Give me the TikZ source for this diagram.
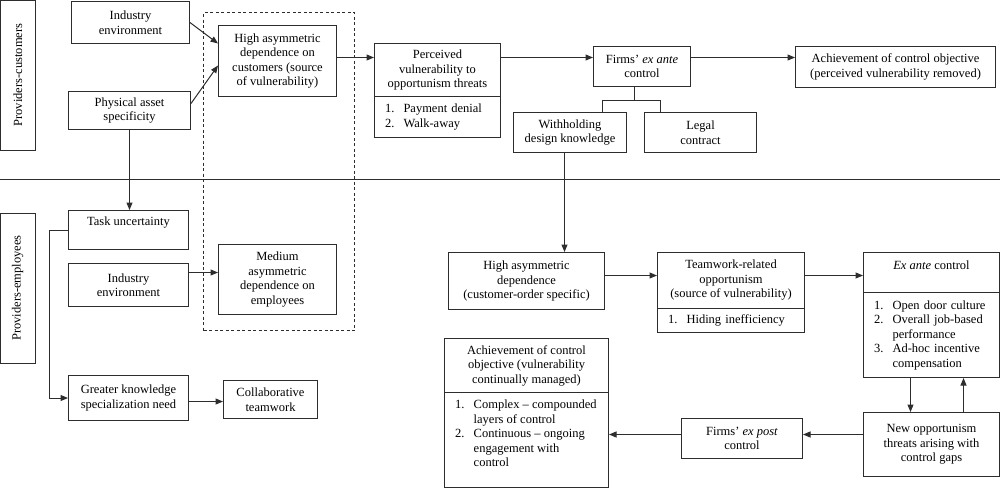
\documentclass[tikz,border=0pt]{standalone}
\usepackage{fontspec}
\setmainfont{Liberation Serif}
\usetikzlibrary{arrows.meta,calc}
\definecolor{linec}{RGB}{45,45,45}
\newcommand\lnum[1]{\makebox[18.5pt][l]{#1}}
\begin{document}
\begin{tikzpicture}[x=1pt,y=-1pt,
  box/.style={draw=linec, line width=1pt, align=center, inner sep=1pt,
    font=\fontsize{12.5}{14.5}\selectfont, anchor=north west},
  lbox/.style={box, align=left, inner xsep=10.5pt},
  txt/.style={align=left, inner sep=0pt, font=\fontsize{12.5}{14.5}\selectfont},
  arr/.style={draw=linec, line width=1pt, -{Triangle[length=7.5pt,width=6pt]}},
  ln/.style={draw=linec, line width=1pt}]
\useasboundingbox (0,0) rectangle (1000,488);

% ---- top band: providers-customers
\node[box, rotate=90, anchor=center, minimum width=150pt, minimum height=34.5pt] (pc) at (17.75,75) {Providers-customers};
\node[box, minimum width=118pt, minimum height=42pt] (ie1) at (71,1) {Industry\\environment};
\node[box, minimum width=122pt, minimum height=38pt] (pas) at (68,91) {Physical asset\\specificity};
\node[draw=linec, line width=1pt, dash pattern=on 3pt off 2.5pt, minimum width=151pt, minimum height=318pt, anchor=north west, inner sep=0pt] (grp) at (203,12) {};
\node[box, minimum width=118pt, minimum height=71pt] (had) at (218,25) {High asymmetric\\dependence on\\customers (source\\of vulnerability)};
\node[box, minimum width=126pt, minimum height=53pt] (pvh) at (374,43) {Perceived\\vulnerability to\\opportunism threats};
\node[lbox, text width=105pt, minimum height=41pt] (pvl) at (374,96) {\lnum{1.}Payment denial\\\lnum{2.}Walk-away};
\node[box, minimum width=97pt, minimum height=40pt] (fea) at (593,46) {Firms’ \textit{ex ante}\\control};
\node[box, minimum width=200pt, minimum height=41pt] (ach1) at (795,46) {Achievement of control objective\\(perceived vulnerability removed)};
\node[box, minimum width=113pt, minimum height=40pt] (wdk) at (513,112) {Withholding\\design knowledge};
\node[box, minimum width=112pt, minimum height=40pt] (lc) at (644,112) {Legal\\contract};

\draw[ln] (0,179) -- (1000,179);

% ---- bottom band: providers-employees
\node[box, rotate=90, anchor=center, minimum width=150pt, minimum height=34.5pt] (pe) at (17.75,288) {Providers-employees};
\node[box, minimum width=120pt, minimum height=39pt] (tu) at (68,210) {};
\node[txt, align=center] (tut) at ([yshift=-13pt]tu.north) {Task uncertainty};
\node[box, minimum width=120pt, minimum height=43pt] (ie2) at (68,263) {Industry\\environment};
\node[box, minimum width=118pt, minimum height=70pt] (mad) at (218,244) {Medium\\asymmetric\\dependence on\\employees};
\node[box, minimum width=120pt, minimum height=45pt] (gks) at (68,375) {Greater knowledge\\specialization need};
\node[box, minimum width=94pt, minimum height=38pt] (ct) at (223,380) {Collaborative\\teamwork};
\node[box, minimum width=156pt, minimum height=57pt] (had2) at (448,252) {High asymmetric\\dependence\\(customer-order specific)};
\node[box, minimum width=147pt, minimum height=56pt] (troh) at (657,252) {Teamwork-related\\opportunism\\(source of vulnerability)};
\node[lbox, text width=126pt, minimum height=24pt] (trol) at (657,308) {\lnum{1.}Hiding inefficiency};
\node[box, minimum width=136pt, minimum height=40pt] (each) at (863,252) {};
\node[txt, align=center] (eacht) at ([yshift=-13pt]each.north) {\textit{Ex ante} control};
\node[lbox, text width=115pt, minimum height=85pt] (eacl) at (863,292) {\lnum{1.}Open door culture\\\lnum{2.}Overall job-based\\\hspace*{18.5pt}performance\\\lnum{3.}Ad-hoc incentive\\\hspace*{18.5pt}compensation};
\node[box, minimum width=136pt, minimum height=64pt] (not) at (863,412) {New opportunism\\threats arising with\\control gaps};
\node[box, minimum width=121pt, minimum height=40pt] (fep) at (681,418) {Firms’ \textit{ex post}\\control};
\node[box, minimum width=164pt, minimum height=54pt] (ach2h) at (444,338) {Achievement of control\\objective (vulnerability\\continually managed)};
\node[box, minimum width=164pt, minimum height=95pt] (ach2l) at (444,392) {};
\node[txt, anchor=north west] (ach2t) at ([xshift=11pt,yshift=-8pt]ach2l.north west) {\lnum{1.}Complex – compounded\\\hspace*{18.5pt}layers of control\\\lnum{2.}Continuous – ongoing\\\hspace*{18.5pt}engagement with\\\hspace*{18.5pt}control};

% ---- connectors
\draw[arr] (ie1.east) -- ([yshift=17.5pt]had.west);
\draw[arr] ([yshift=7pt]pas.east) -- ([yshift=-4.5pt]had.west);
\draw[arr] ([yshift=3.5pt]had.east) -- ([yshift=3.5pt]had.east -| pvh.west);
\draw[arr] ([yshift=12.5pt]pvh.east) -- ([yshift=12.5pt]pvh.east -| fea.west);
\draw[arr] ([yshift=9pt]fea.east) -- ([yshift=9pt]fea.east -| ach1.west);
\draw[ln] ([xshift=-7.5pt]fea.south) -- ++(0,13) -| ([xshift=32.5pt]wdk.north);
\draw[ln] ([xshift=-7.5pt]fea.south) ++(0,13) -| ([xshift=-40pt]lc.north);
\draw[arr] ([xshift=-5.5pt]wdk.south) -- ([xshift=-5.5pt]wdk.south |- had2.north);
\draw[arr] (pas.south) -- (pas.south |- tu.north);
\draw[arr] (tu.west) -- ++(-19,0) |- (gks.west);
\draw[arr] ([yshift=12.5pt]ie2.east) -- ([yshift=12.5pt]ie2.east -| mad.west);
\draw[arr] ([yshift=-3.5pt]gks.east) -- ([yshift=-3.5pt]gks.east -| ct.west);
\draw[arr] ([yshift=5.5pt]had2.east) -- ([yshift=5.5pt]had2.east -| troh.west);
\draw[arr] ([yshift=5pt]troh.east) -- ([yshift=5pt]troh.east -| each.west);
\draw[arr] ([xshift=-21pt]eacl.south) -- ([xshift=-21pt]eacl.south |- not.north);
\draw[arr] ([xshift=32pt]not.north) -- ([xshift=32pt]not.north |- eacl.south);
\draw[arr] ([yshift=10pt]not.west) -- ([yshift=10pt]not.west -| fep.east);
\draw[arr] ([yshift=4pt]fep.west) -- ([yshift=4pt]fep.west -| ach2l.east);
\end{tikzpicture}
\end{document}
